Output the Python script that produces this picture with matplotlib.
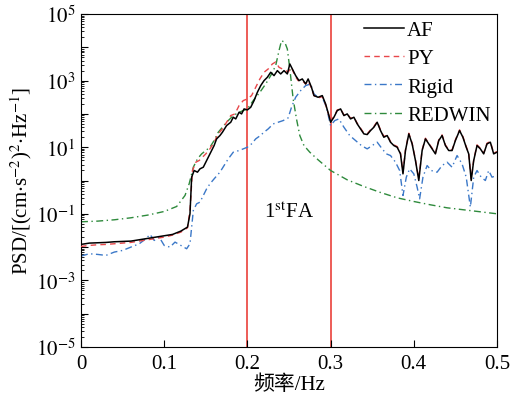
import matplotlib
matplotlib.use("Agg")
import matplotlib.pyplot as plt
import numpy as np
from matplotlib.ticker import LogLocator, NullFormatter

plt.rcParams['font.family'] = ['Liberation Serif', 'Noto Sans CJK SC']
plt.rcParams['mathtext.fontset'] = 'stix'
plt.rcParams['font.size'] = 15

# frequency (Hz) and log10(PSD)
af_f = [0.000, 0.010, 0.020, 0.030, 0.040, 0.050, 0.060, 0.070, 0.080, 0.090,
        0.100, 0.110, 0.120, 0.128, 0.131, 0.133, 0.136, 0.140, 0.143, 0.147,
        0.150, 0.155, 0.160, 0.163, 0.167, 0.170, 0.175, 0.180, 0.183, 0.186,
        0.190, 0.193, 0.196, 0.200, 0.204, 0.208, 0.212, 0.216, 0.220, 0.224,
        0.228, 0.232, 0.236, 0.240, 0.244, 0.248, 0.251, 0.254, 0.258, 0.262,
        0.266, 0.270, 0.273, 0.277, 0.280, 0.285, 0.290, 0.294, 0.298, 0.300,
        0.304, 0.308, 0.312, 0.316, 0.320, 0.324, 0.328, 0.332, 0.336, 0.340,
        0.344, 0.348, 0.352, 0.356, 0.360, 0.364, 0.368, 0.372, 0.376, 0.380,
        0.384, 0.387, 0.390, 0.394, 0.398, 0.402, 0.406, 0.410, 0.414, 0.418,
        0.422, 0.426, 0.430, 0.434, 0.438, 0.442, 0.446, 0.450, 0.455, 0.459,
        0.463, 0.466, 0.469, 0.472, 0.476, 0.480, 0.484, 0.488, 0.492, 0.496,
        0.500]
af_log = [-1.92, -1.88, -1.87, -1.86, -1.84, -1.83, -1.82, -1.78, -1.74, -1.70,
          -1.66, -1.62, -1.52, -1.40, -1.00, 0.10, 0.30, 0.25, 0.35, 0.40,
          0.55, 0.80, 1.05, 1.25, 1.35, 1.45, 1.65, 1.75, 1.90, 1.85,
          2.05, 2.00, 2.15, 2.12, 2.20, 2.40, 2.65, 2.85, 3.00, 3.10,
          3.25, 3.15, 3.30, 3.20, 3.30, 3.20, 3.50, 3.35, 3.15, 3.00,
          3.05, 2.90, 3.05, 2.80, 2.55, 2.50, 2.55, 2.30, 1.95, 1.75,
          1.90, 2.10, 2.15, 1.95, 2.00, 1.85, 1.90, 1.70, 1.55, 1.40,
          1.38, 1.50, 1.60, 1.75, 1.50, 1.30, 1.35, 1.15, 1.05, 1.00,
          0.80, 0.20, 0.90, 1.40, 1.10, 0.60, 0.00, 0.90, 1.25, 1.10,
          0.95, 0.80, 1.20, 1.35, 1.05, 0.90, 0.90, 1.20, 1.50, 1.30,
          1.00, 0.80, 0.00, 0.60, 1.05, 0.95, 0.80, 1.10, 1.15, 0.80,
          0.85]

py_f = [0.000, 0.010, 0.020, 0.030, 0.040, 0.050, 0.060, 0.070, 0.080, 0.090,
        0.100, 0.110, 0.120, 0.128, 0.131, 0.134, 0.138, 0.142, 0.146, 0.150,
        0.155, 0.160, 0.165, 0.170, 0.175, 0.180, 0.185, 0.190, 0.195, 0.200,
        0.205, 0.210, 0.215, 0.220, 0.225, 0.230, 0.234, 0.238, 0.242, 0.246,
        0.249, 0.253, 0.257, 0.261, 0.265, 0.270, 0.273, 0.277, 0.280, 0.285,
        0.290, 0.294, 0.298, 0.300, 0.304, 0.308, 0.312, 0.316, 0.320, 0.324,
        0.328, 0.332, 0.336, 0.340, 0.344, 0.348, 0.352, 0.356, 0.360, 0.364,
        0.368, 0.372, 0.376, 0.380, 0.384, 0.387, 0.390, 0.394, 0.398, 0.402,
        0.406, 0.410, 0.414, 0.418, 0.422, 0.426, 0.430, 0.434, 0.438, 0.442,
        0.446, 0.450, 0.455, 0.459, 0.463, 0.466, 0.469, 0.472, 0.476, 0.480,
        0.484, 0.488, 0.492, 0.496, 0.500]
py_log = [-1.98, -1.95, -1.93, -1.92, -1.90, -1.88, -1.86, -1.82, -1.78, -1.74,
          -1.70, -1.64, -1.55, -1.42, -0.90, 0.30, 0.55, 0.60, 0.70, 0.80,
          0.95, 1.15, 1.40, 1.55, 1.75, 1.95, 2.00, 2.25, 2.40, 2.45,
          2.55, 2.80, 3.05, 3.25, 3.35, 3.50, 3.56, 3.40, 3.35, 3.30,
          3.26, 3.40, 3.15, 3.00, 3.02, 2.90, 3.00, 2.78, 2.55, 2.48,
          2.52, 2.28, 1.95, 1.78, 1.92, 2.12, 2.15, 1.97, 2.00, 1.87,
          1.90, 1.72, 1.57, 1.42, 1.40, 1.52, 1.62, 1.77, 1.52, 1.32,
          1.37, 1.17, 1.07, 1.02, 0.82, 0.25, 0.92, 1.42, 1.12, 0.62,
          0.05, 0.92, 1.27, 1.12, 0.97, 0.82, 1.22, 1.37, 1.07, 0.92,
          0.92, 1.22, 1.52, 1.32, 1.02, 0.82, 0.05, 0.62, 1.07, 0.97,
          0.82, 1.12, 1.17, 0.82, 0.87]

rigid_f = [0.000, 0.010, 0.020, 0.030, 0.040, 0.050, 0.060, 0.070, 0.078, 0.083,
           0.088, 0.094, 0.100, 0.107, 0.113, 0.120, 0.127, 0.131, 0.135, 0.139,
           0.143, 0.147, 0.151, 0.155, 0.160, 0.167, 0.172, 0.177, 0.183, 0.190,
           0.195, 0.200, 0.205, 0.210, 0.215, 0.220, 0.225, 0.231, 0.237, 0.243,
           0.249, 0.253, 0.258, 0.264, 0.270, 0.276, 0.280, 0.285, 0.290, 0.295,
           0.300, 0.305, 0.310, 0.316, 0.323, 0.330, 0.337, 0.344, 0.350, 0.356,
           0.362, 0.367, 0.372, 0.378, 0.383, 0.387, 0.391, 0.395, 0.400, 0.404,
           0.407, 0.411, 0.416, 0.421, 0.428, 0.434, 0.440, 0.446, 0.452, 0.458,
           0.463, 0.468, 0.472, 0.476, 0.481, 0.486, 0.490, 0.494, 0.500]
rigid_log = [-2.27, -2.20, -2.22, -2.25, -2.15, -2.10, -2.00, -1.90, -1.75, -1.62,
             -1.80, -1.70, -1.95, -2.00, -1.85, -1.95, -2.05, -1.90, -0.90, -0.70,
             -0.65, -0.45, -0.25, -0.10, 0.05, 0.25, 0.45, 0.65, 0.85, 0.90,
             0.95, 1.00, 1.10, 1.25, 1.34, 1.45, 1.55, 1.70, 1.75, 1.80,
             1.88, 2.20, 2.50, 2.70, 2.85, 2.90, 2.60, 2.50, 2.50, 2.20,
             1.65, 1.80, 1.85, 1.60, 1.35, 1.20, 1.05, 0.95, 1.05, 1.15,
             0.95, 0.80, 0.75, 0.55, 0.30, -0.45, 0.10, 0.35, 0.20, -0.20,
             -0.55, 0.10, 0.45, 0.30, 0.25, 0.45, 0.55, 0.40, 0.75, 0.50,
             0.10, -0.80, 0.10, 0.30, 0.10, 0.00, 0.30, 0.10, 0.15]

redwin_f = [0.000, 0.020, 0.040, 0.060, 0.080, 0.100, 0.115, 0.125, 0.130, 0.135,
            0.140, 0.145, 0.150, 0.155, 0.160, 0.165, 0.170, 0.175, 0.183, 0.190,
            0.200, 0.207, 0.215, 0.222, 0.228, 0.234, 0.238, 0.241, 0.245, 0.248,
            0.251, 0.255, 0.259, 0.263, 0.268, 0.275, 0.285, 0.300, 0.320, 0.340,
            0.360, 0.380, 0.400, 0.420, 0.440, 0.460, 0.480, 0.500]
redwin_log = [-1.24, -1.22, -1.18, -1.12, -1.04, -0.93, -0.78, -0.45, -0.10, 0.40,
              0.65, 0.80, 0.90, 1.00, 1.20, 1.45, 1.60, 1.75, 1.95, 2.05,
              2.15, 2.40, 2.65, 2.90, 3.15, 3.45, 3.90, 4.20, 4.15, 3.95,
              3.35, 2.45, 1.85, 1.35, 1.05, 0.85, 0.62, 0.30, 0.02, -0.18,
              -0.36, -0.52, -0.63, -0.73, -0.82, -0.88, -0.94, -1.00]

band = [0.2, 0.3]
xticks = [0, 0.1, 0.2, 0.3, 0.4, 0.5]
xticklabels = ['0', '0.1', '0.2', '0.3', '0.4', '0.5']

fig = plt.figure(figsize=(5.11, 4.06), dpi=100)
ax = fig.add_axes([0.1585, 0.1429, 0.8141, 0.8201])

ax.plot(af_f, 10 ** np.array(af_log), color='black', lw=1.1, label='AF', zorder=4)
ax.plot(py_f, 10 ** np.array(py_log), color='#e8474a', lw=1.0, ls=(0, (4, 3)), label='PY', zorder=3)
ax.plot(rigid_f, 10 ** np.array(rigid_log), color='#3b78c8', lw=1.0, ls=(0, (5, 2.5, 1, 2.5)), label='Rigid', zorder=2)
ax.plot(redwin_f, 10 ** np.array(redwin_log), color='#2e8a3c', lw=1.0, ls=(0, (5, 2.5, 1, 2.5)), label='REDWIN', zorder=2)

for b in band:
    ax.axvline(b, color='#e8302a', lw=1.1, zorder=1)

ax.text(0.25, 10 ** -0.95, '1$^{\\rm st}$FA', ha='center', va='center', fontsize=15)

ax.set_yscale('log')
ax.set_xlim(0, 0.5)
ax.set_ylim(1e-5, 1e5)
ax.set_xticks(xticks)
ax.set_xticklabels(xticklabels)
yt = [10.0 ** k for k in range(-5, 6)]
ax.set_yticks(yt)
ax.set_yticklabels(['$10^{%d}$' % k if k % 2 else '' for k in range(-5, 6)])
ax.yaxis.set_minor_locator(LogLocator(base=10, subs=np.arange(2, 10), numticks=20))
ax.yaxis.set_minor_formatter(NullFormatter())
ax.tick_params(which='both', direction='in', top=False, right=False, labelsize=15)
ax.tick_params(which='major', length=5)
ax.tick_params(which='minor', length=2.5)
ax.tick_params(axis='x', pad=5)
ax.tick_params(axis='y', pad=4)

ax.set_xlabel('频率/Hz', fontsize=15, labelpad=1)
ax.set_ylabel('PSD/[(cm$\\cdot$s$^{-2}$)$^2$$\\cdot$Hz$^{-1}$]', fontsize=15, labelpad=1)

ax.legend(loc='upper right', frameon=False, fontsize=15, handlelength=1.9,
          labelspacing=0.42, borderaxespad=0.0, borderpad=0.3, handletextpad=0.15)

fig.savefig('out.png', dpi=100)
